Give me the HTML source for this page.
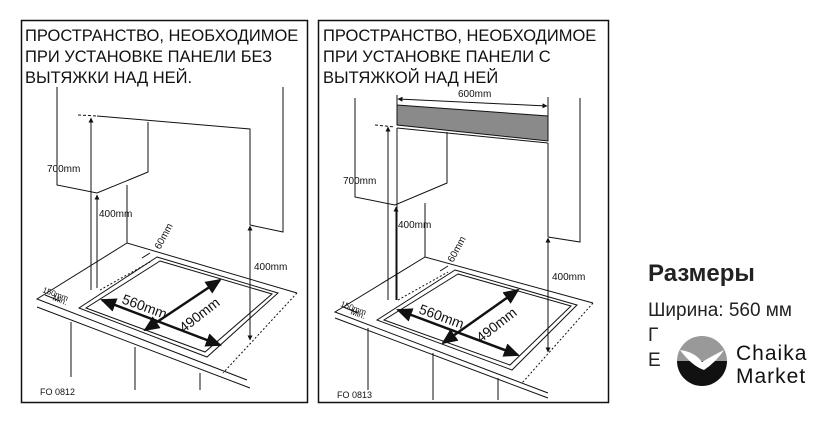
<!DOCTYPE html>
<html><head><meta charset="utf-8"><style>
body{margin:0;background:#fff;}
svg{display:block;font-family:"Liberation Sans",sans-serif;}
</style></head><body>
<svg width="840" height="424" viewBox="0 0 840 424" xmlns="http://www.w3.org/2000/svg">
<defs>
<marker id="s" markerWidth="5" markerHeight="5" refX="4.5" refY="2.5" orient="auto-start-reverse" markerUnits="userSpaceOnUse"><path d="M0,0 L5,2.5 L0,5z" fill="#111"/></marker>
<marker id="b" markerWidth="16" markerHeight="14" refX="14" refY="7" orient="auto-start-reverse" markerUnits="userSpaceOnUse"><path d="M0,0 L16,7 L0,14z" fill="#111"/></marker>
</defs>
<g fill="none" stroke="#111" stroke-width="1">
<rect x="21.5" y="20.5" width="286" height="382" stroke-width="1.5"/>
<polyline points="57,87 57,185 97,193 148,172 148,122"/>
<line x1="78" y1="115" x2="97" y2="116" stroke-dasharray="3,2"/>
<polyline points="97,116 250,129 250,225"/>
<polyline points="283,87 283,232 250,225"/>
<line x1="91" y1="290" x2="91" y2="118" marker-end="url(#s)"/>
<line x1="97" y1="288" x2="97" y2="195" marker-end="url(#s)"/>
<line x1="250" y1="226" x2="250" y2="340" marker-start="url(#s)" marker-end="url(#s)"/>
<line x1="127" y1="185" x2="127" y2="243"/>
<polyline points="297,293 127,243 37,299 247,380"/>
<line x1="37" y1="307" x2="250" y2="388"/>
<line x1="71" y1="322" x2="71" y2="377"/><line x1="135" y1="347" x2="135" y2="390"/><line x1="200" y1="373" x2="200" y2="390"/>
<line x1="297" y1="293" x2="223" y2="373" stroke-dasharray="2,2"/>
<line x1="100" y1="290" x2="150" y2="262" stroke-dasharray="2,2"/>
<polygon points="157,257 278,293 207,357 79,308"/>
<polygon points="160,261 272,294 205,352 86,308"/>
<line x1="150" y1="253" x2="142" y2="258"/>
<line x1="45" y1="295" x2="60" y2="301"/>
<line x1="102" y1="300" x2="220" y2="345" stroke-width="2.5" marker-start="url(#b)" marker-end="url(#b)"/>
<line x1="145" y1="330" x2="220" y2="280" stroke-width="2.5" marker-start="url(#b)" marker-end="url(#b)"/>
<rect x="318.5" y="20.5" width="290" height="382" stroke-width="1.5"/>
<polygon points="397,105 548,116 548,141 397,125" fill="#8a8a8a"/>
<line x1="397" y1="128" x2="548" y2="143"/>
<line x1="397" y1="95" x2="397" y2="125"/><line x1="548" y1="97" x2="548" y2="116"/>
<line x1="398" y1="99" x2="547" y2="106" marker-start="url(#s)" marker-end="url(#s)"/>
<polyline points="355,98 355,197 395,205 447,183 447,132"/>
<line x1="375" y1="125" x2="395" y2="127" stroke-dasharray="3,2"/>
<line x1="388" y1="300" x2="388" y2="127" marker-end="url(#s)"/>
<line x1="396" y1="300" x2="396" y2="207" marker-end="url(#s)"/>
<line x1="397" y1="128" x2="397" y2="300"/>
<polyline points="580,98 580,242 548,237"/>
<line x1="548" y1="143" x2="548" y2="237"/>
<line x1="548" y1="238" x2="548" y2="352" marker-start="url(#s)" marker-end="url(#s)"/>
<line x1="425" y1="203" x2="425" y2="257"/>
<polyline points="593,303 425,257 335,312 548,393"/>
<line x1="335" y1="318" x2="548" y2="398"/>
<line x1="368" y1="328" x2="368" y2="390"/><line x1="433" y1="353" x2="433" y2="400"/><line x1="498" y1="378" x2="498" y2="400"/>
<line x1="593" y1="303" x2="522" y2="383" stroke-dasharray="2,2"/>
<line x1="398" y1="300" x2="448" y2="272" stroke-dasharray="2,2"/>
<polygon points="455,270 577,305 512,370 377,320"/>
<polygon points="458,274 571,306 510,365 384,320"/>
<line x1="448" y1="266" x2="440" y2="271"/>
<line x1="343" y1="307" x2="358" y2="313"/>
<line x1="398" y1="310" x2="518" y2="355" stroke-width="2.5" marker-start="url(#b)" marker-end="url(#b)"/>
<line x1="443" y1="343" x2="518" y2="290" stroke-width="2.5" marker-start="url(#b)" marker-end="url(#b)"/>
</g>
<g fill="#111" font-size="16.5">
<text x="25" y="41">ПРОСТРАНСТВО, НЕОБХОДИМОЕ</text>
<text x="25" y="62">ПРИ УСТАНОВКЕ ПАНЕЛИ БЕЗ</text>
<text x="25" y="83">ВЫТЯЖКИ НАД НЕЙ.</text>
<text x="323" y="41">ПРОСТРАНСТВО, НЕОБХОДИМОЕ</text>
<text x="323" y="62">ПРИ УСТАНОВКЕ ПАНЕЛИ С</text>
<text x="323" y="83">ВЫТЯЖКОЙ НАД НЕЙ</text>
</g>
<g fill="#111" font-size="10">
<text x="47" y="172">700mm</text>
<text x="99" y="217">400mm</text>
<text x="254" y="270">400mm</text>
<text x="40" y="395" font-size="9">FO 0812</text>
<text x="343" y="184">700mm</text>
<text x="398" y="228">400mm</text>
<text x="552" y="280">400mm</text>
<text x="458" y="97">600mm</text>
<text x="337" y="398" font-size="9">FO 0813</text>
<text transform="translate(160,250) rotate(-62)" font-size="10">60mm</text>
<text transform="translate(453,263) rotate(-62)" font-size="10">60mm</text>
<text transform="translate(42,292) rotate(20)" font-size="8">150mm</text>
<text transform="translate(52,300) rotate(20)" font-size="8">Min.</text>
<text transform="translate(340,306) rotate(20)" font-size="8">150mm</text>
<text transform="translate(350,314) rotate(20)" font-size="8">Min.</text>
<text transform="translate(121,303) rotate(20)" font-size="14">560mm</text>
<text transform="translate(184,333) rotate(-38)" font-size="14">490mm</text>
<text transform="translate(418,313) rotate(20)" font-size="14">560mm</text>
<text transform="translate(481,343) rotate(-38)" font-size="14">490mm</text>
</g>
<text x="648" y="281" font-size="24" font-weight="bold" fill="#222">Размеры</text>
<text x="648" y="316" font-size="19" fill="#222">Ширина: 560 мм</text>
<text x="648" y="341" font-size="19" fill="#222">Г</text>
<text x="648" y="366" font-size="19" fill="#222">Е</text>
<circle cx="702" cy="361" r="25" fill="#fff"/>
<path d="M677,361 A25,25 0 0 1 727,361 Z" fill="#999"/>
<path d="M677,361 A25,25 0 0 0 727,361 Z" fill="#111"/>
<path d="M680,350 Q695,352 702,362 Q712,356 724,350 Q716,362 704,370 Q692,366 680,350Z" fill="#fff"/>
<text x="736" y="360" font-size="21" fill="#111" letter-spacing="1">Chaika</text>
<text x="736" y="383" font-size="21" fill="#111" letter-spacing="1">Market</text>
</svg>
</body></html>
